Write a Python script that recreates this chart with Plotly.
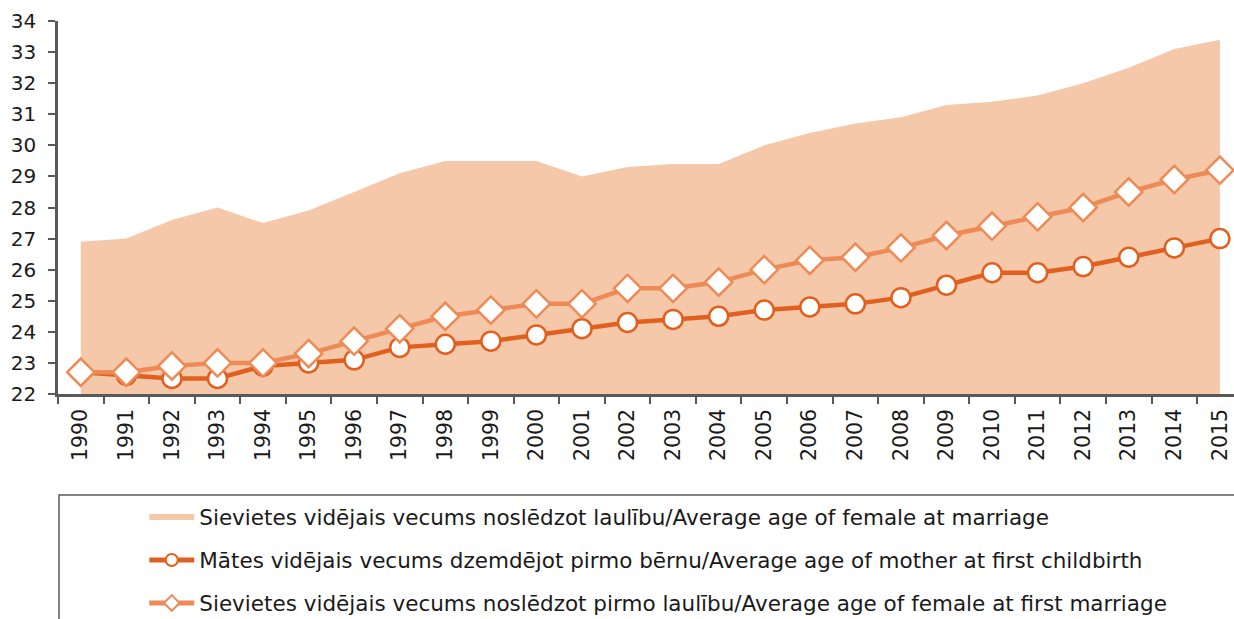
import plotly.graph_objects as go

years = [str(y) for y in range(1990, 2016)]
age_marriage = [26.9, 27.0, 27.6, 28.0, 27.5, 27.9, 28.5, 29.1, 29.5, 29.5, 29.5, 29.0, 29.3,
                29.4, 29.4, 30.0, 30.4, 30.7, 30.9, 31.3, 31.4, 31.6, 32.0, 32.5, 33.1, 33.4]
age_first_birth = [22.7, 22.6, 22.5, 22.5, 22.9, 23.0, 23.1, 23.5, 23.6, 23.7, 23.9, 24.1, 24.3,
                   24.4, 24.5, 24.7, 24.8, 24.9, 25.1, 25.5, 25.9, 25.9, 26.1, 26.4, 26.7, 27.0]
age_first_marriage = [22.7, 22.7, 22.9, 23.0, 23.0, 23.3, 23.7, 24.1, 24.5, 24.7, 24.9, 24.9, 25.4,
                      25.4, 25.6, 26.0, 26.3, 26.4, 26.7, 27.1, 27.4, 27.7, 28.0, 28.5, 28.9, 29.2]
names = [
    "Sievietes vidējais vecums noslēdzot laulību/Average age of female at marriage",
    "Mātes vidējais vecums dzemdējot pirmo bērnu/Average age of mother at first childbirth",
    "Sievietes vidējais vecums noslēdzot pirmo laulību/Average age of female at first marriage",
]

AREA = "#F5C8A9"
DARK = "#E2601F"
LIGHT = "#EE8A55"
FONT = "DejaVu Sans"

fig = go.Figure()
fig.add_trace(go.Scatter(x=years, y=age_marriage, name=names[0], mode="none",
                         fill="tozeroy", fillcolor=AREA, legend="legend"))
fig.add_trace(go.Scatter(x=years, y=age_first_birth, name=names[1], mode="lines+markers",
                         line=dict(color=DARK, width=4.5),
                         marker=dict(symbol="circle", size=19, color="white",
                                     line=dict(color=DARK, width=2.5)),
                         legend="legend2"))
fig.add_trace(go.Scatter(x=years, y=age_first_marriage, name=names[2], mode="lines+markers",
                         line=dict(color=LIGHT, width=4.5),
                         marker=dict(symbol="diamond", size=21, color="white",
                                     line=dict(color=LIGHT, width=2.5)),
                         legend="legend3"))

leg_common = dict(x=0.1169, xref="container", yref="container", xanchor="left",
                  yanchor="middle", bgcolor="rgba(0,0,0,0)",
                  font=dict(family=FONT, size=21.5, color="#1a1a1a"), itemwidth=45,
                  itemsizing="constant")
fig.update_layout(
    width=1234, height=619, autosize=False,
    margin=dict(l=58, r=0, t=21, b=225, autoexpand=False),
    plot_bgcolor="white", paper_bgcolor="white",
    font=dict(family=FONT, size=20, color="#1a1a1a"),
    showlegend=True,
    legend=dict(y=0.1648, **leg_common),
    legend2=dict(y=0.0953, **leg_common),
    legend3=dict(y=0.0259, **leg_common),
    xaxis=dict(type="category", range=[-0.5, 25.31], tickangle=-90, automargin=False,
               showline=True, linecolor="#595959", linewidth=2.5,
               ticks="outside", ticklen=7, tickwidth=2, tickcolor="#595959",
               tickson="boundaries", showgrid=False, zeroline=False, ticklabelstandoff=4,
               tickfont=dict(family=FONT, size=20.5, color="#1a1a1a")),
    yaxis=dict(range=[22, 34], dtick=1, automargin=False,
               showline=True, linecolor="#595959", linewidth=2.5,
               ticks="outside", ticklen=7, tickwidth=2, tickcolor="#595959",
               showgrid=False, zeroline=False, ticklabelstandoff=8,
               tickfont=dict(family=FONT, size=20, color="#1a1a1a")),
    shapes=[dict(type="rect", xref="paper", yref="paper",
                 x0=0.00085, x1=1.2, y0=-0.2706, y1=-1.0,
                 line=dict(color="#595959", width=1.5), fillcolor="rgba(0,0,0,0)")],
)

fig.write_html(
    "out.html",
    config={"responsive": False, "displayModeBar": False},
    post_script="document.body.style.margin='0';document.body.style.overflow='hidden';",
)
